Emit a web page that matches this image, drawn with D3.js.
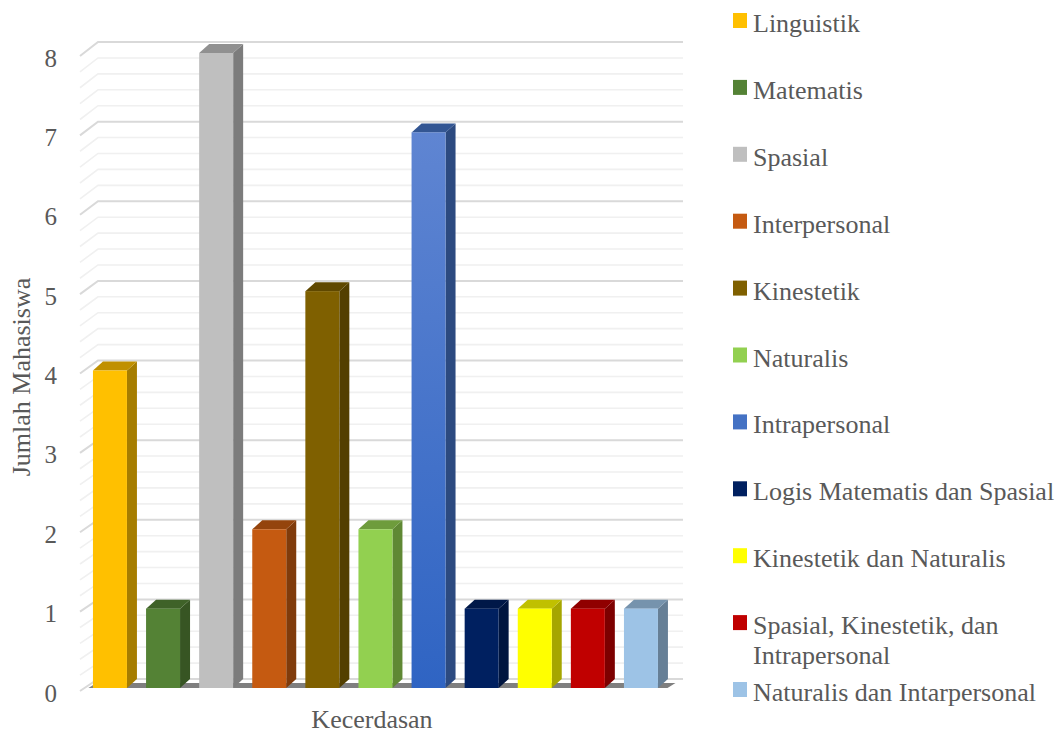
<!DOCTYPE html>
<html>
<head>
<meta charset="utf-8">
<script src="https://cdn.jsdelivr.net/npm/d3@7"></script>
<style>
  body { margin: 0; background: #fff; }
</style>
</head>
<body>
<svg id="chart"></svg>
<script>
const categories = ['Linguistik', 'Matematis', 'Spasial', 'Interpersonal', 'Kinestetik', 'Naturalis',
    'Intrapersonal', 'Logis Matematis dan Spasial', 'Kinestetik dan Naturalis',
    'Spasial, Kinestetik, dan Intrapersonal', 'Naturalis dan Intarpersonal'];
const values = [4, 1, 8, 2, 5, 2, 7, 1, 1, 1, 1];
const colors = ['#ffc000', '#548235', '#bfbfbf', '#c55a11', '#7f6000', '#92d050',
    '#4472c4', '#002060', '#ffff00', '#c00000', '#9dc3e6'];
const legendLines = [['Linguistik'], ['Matematis'], ['Spasial'], ['Interpersonal'], ['Kinestetik'],
    ['Naturalis'], ['Intrapersonal'], ['Logis Matematis dan Spasial'], ['Kinestetik dan Naturalis'],
    ['Spasial, Kinestetik, dan', 'Intrapersonal'], ['Naturalis dan Intarpersonal']];
const yTicks = [0, 1, 2, 3, 4, 5, 6, 7, 8];

const width = 1064, height = 733;
const fontFam = "'Liberation Serif', 'DejaVu Serif', serif";
const textCol = '#595959';
const svg = d3.select('#chart')
    .attr('width', width)
    .attr('height', height);

// front plane (bars) and back wall (gridlines)
const yFront = d3.scaleLinear().domain([0, 8]).range([688, 53]);
const yBack = d3.scaleLinear().domain([0, 8]).range([679, 42]);
const x = d3.scaleBand()
    .domain(categories)
    .range([83.4, 667.5])
    .paddingInner(0.36)
    .paddingOuter(0.18);

const wallLeft = 80, wallBack = 98, wallRight = 683;
const depthX = 10, depthY = -9;

// gridlines every 0.2
const gridVals = d3.range(0, 40.5).map(d => d / 5);
const grid = svg.append('g');
for (const v of gridVals) {
    const major = Math.abs(v - Math.round(v)) < 1e-6;
    const col = major ? '#d9d9d9' : '#f0f0f0';
    grid.append('polyline')
        .attr('points', [[wallLeft, yFront(v) + 3], [wallBack, yBack(v)], [wallRight, yBack(v)]].join(' '))
        .attr('fill', 'none')
        .attr('stroke', col)
        .attr('stroke-width', major ? 2 : 1.6);
}

// floor
const fx0 = x.range()[0] + 5, fx1 = x.range()[1];
svg.append('polygon')
    .attr('points', [[fx0, 688], [fx1, 688], [fx1 + 8, 683], [fx0 + 8, 683]].join(' '))
    .attr('fill', '#7f7f7f');

// y axis labels
svg.append('g').selectAll('text')
    .data(yTicks)
    .join('text')
    .attr('x', 57)
    .attr('y', d => yFront(d) + 5)
    .attr('text-anchor', 'end')
    .attr('dominant-baseline', 'central')
    .attr('font-family', fontFam)
    .attr('fill', textCol)
    .attr('font-size', 25)
    .text(d => d);

// gradient for the intrapersonal bar
const defs = svg.append('defs');
const grad = defs.append('linearGradient')
    .attr('id', 'gradIntra')
    .attr('x1', 0).attr('y1', 0).attr('x2', 0).attr('y2', 1);
grad.append('stop').attr('offset', '0%').attr('stop-color', '#5f85d2');
grad.append('stop').attr('offset', '100%').attr('stop-color', '#2f64c3');

// bars
const bars = svg.append('g');
categories.forEach((c, i) => {
    const x0 = x(c), w = x.bandwidth();
    const yt = yFront(values[i]), yb = yFront(0);
    const base = d3.color(colors[i]);
    bars.append('polygon')
        .attr('points', [[x0 + w, yt], [x0 + w + depthX, yt + depthY], [x0 + w + depthX, yb + depthY], [x0 + w, yb]].join(' '))
        .attr('fill', base.darker(1.2));
    bars.append('polygon')
        .attr('points', [[x0, yt], [x0 + depthX, yt + depthY], [x0 + w + depthX, yt + depthY], [x0 + w, yt]].join(' '))
        .attr('fill', base.darker(0.8));
    bars.append('rect')
        .attr('x', x0)
        .attr('y', yt)
        .attr('width', w)
        .attr('height', yb - yt)
        .attr('fill', c === 'Intrapersonal' ? 'url(#gradIntra)' : colors[i]);
});

// axis titles
svg.append('text')
    .attr('transform', 'translate(30,377) rotate(-90)')
    .attr('text-anchor', 'middle')
    .attr('font-family', fontFam)
    .attr('fill', textCol)
    .attr('font-size', 26)
    .text('Jumlah Mahasiswa');
svg.append('text')
    .attr('x', 372)
    .attr('y', 728)
    .attr('text-anchor', 'middle')
    .attr('font-family', fontFam)
    .attr('fill', textCol)
    .attr('font-size', 26)
    .text('Kecerdasan');

// legend
const legend = svg.append('g');
const rowStep = 66.9;
legendLines.forEach((lines, i) => {
    const by = 32 + rowStep * i;
    legend.append('rect')
        .attr('x', 733)
        .attr('y', by - 19)
        .attr('width', 14)
        .attr('height', 15)
        .attr('fill', colors[i]);
    const t = legend.append('text')
        .attr('x', 753)
        .attr('y', by)
        .attr('font-family', fontFam)
        .attr('fill', textCol)
        .attr('font-size', 26);
    lines.forEach((ln, j) => {
        t.append('tspan').attr('x', 753).attr('dy', j === 0 ? 0 : 30).text(ln);
    });
});
</script>
</body>
</html>
